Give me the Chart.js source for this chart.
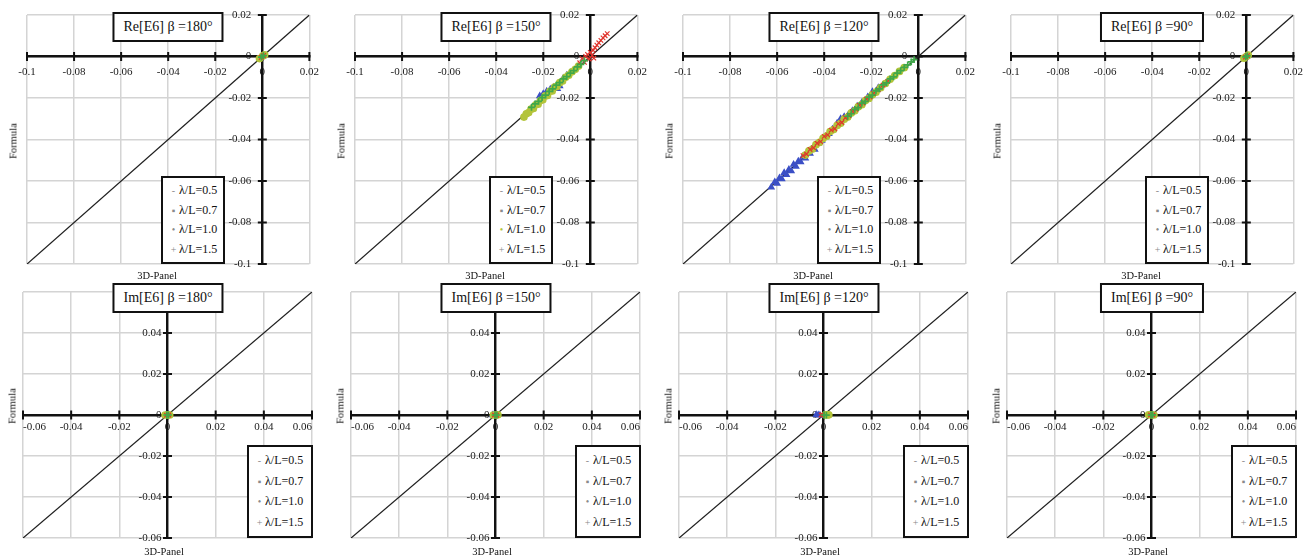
<!DOCTYPE html>
<html>
<head>
<meta charset="utf-8">
<script src="https://cdn.jsdelivr.net/npm/chart.js@4.4.1/dist/chart.umd.min.js"></script>
<style>
  html, body { margin: 0; padding: 0; background: #fff; }
  #fig { position: relative; width: 1312px; height: 558px; overflow: hidden; background: #fff;
         font-family: "Liberation Serif", "Times New Roman", serif; color: #111; }
  .panel { position: absolute; width: 328px; }
  .panel canvas { position: absolute; left: 0; top: 0; }
  .title { position: absolute; border: 2px solid #111; background: #fff; font-size: 14px;
           height: 26px; line-height: 26px; padding: 0 9px; white-space: nowrap; transform: translateX(-50%); }
  .legend { position: absolute; border: 2px solid #111; background: #fff; font-size: 12px;
            box-sizing: border-box; display: flex; flex-direction: column; justify-content: space-evenly;
            padding: 0 4px 0 7px; white-space: nowrap; }
  .legend .mk { display: inline-block; width: 7px; text-align: center; color: #8a8a8a; margin-right: 2px; font-size: 10px; }
  .ytitle { position: absolute; font-size: 10.5px; transform: translate(-50%, -50%) rotate(-90deg); white-space: nowrap; }
  .xtitle { position: absolute; font-size: 10.5px; transform: translate(-50%, -50%); white-space: nowrap; }
</style>
</head>
<body>
<div id="fig"></div>
<script>
// ---- tick values and labels ----
const reTicks = [-0.1, -0.08, -0.06, -0.04, -0.02, 0, 0.02];
const reTickLabels = ['-0.1', '-0.08', '-0.06', '-0.04', '-0.02', '0', '0.02'];
const imTicks = [-0.06, -0.04, -0.02, 0, 0.02, 0.04, 0.06];
const imTickLabels = ['-0.06', '-0.04', '-0.02', '0', '0.02', '0.04', '0.06'];

// ---- legend entries ----
const seriesNames = ['λ/L=0.5', 'λ/L=0.7', 'λ/L=1.0', 'λ/L=1.5'];
const seriesColors = ['#3b4fc6', '#e0342c', '#b3c43a', '#3fa84a'];
const legendMarks = ['-', '▪', '•', '+'];

// ---- Re[E6], beta = 180 deg : [3D-Panel, Formula] ----
const re180_l05 = [[-0.0008, -0.0006], [0.0004, 0.0003]];
const re180_l07 = [[-0.0005, -0.0004], [0.0006, 0.0005]];
const re180_l10 = [[-0.0012, -0.0010], [0.0002, 0.0003], [0.0010, 0.0008]];
const re180_l15 = [[-0.0004, -0.0003], [0.0005, 0.0004]];

// ---- Re[E6], beta = 150 deg ----
const re150_l05 = [[-0.0215, -0.0190], [-0.0200, -0.0180], [-0.0185, -0.0168], [-0.0170, -0.0158], [-0.0155, -0.0148],
                   [-0.0140, -0.0155], [-0.0130, -0.0142], [-0.0115, -0.0105], [-0.0100, -0.0090], [-0.0085, -0.0078]];
const re150_l07 = [[-0.0045, -0.0030], [-0.0035, -0.0010], [-0.0025, -0.0028], [-0.0020, 0.0000], [-0.0012, 0.0010],
                   [-0.0005, -0.0012], [0.0000, 0.0020], [0.0008, 0.0005], [0.0012, 0.0030], [0.0020, 0.0042],
                   [0.0028, 0.0055], [0.0036, 0.0066], [0.0045, 0.0078], [0.0054, 0.0090], [0.0063, 0.0100],
                   [0.0072, 0.0110], [0.0015, -0.0008]];
const re150_l10 = [[-0.0282, -0.0292], [-0.0272, -0.0276], [-0.0262, -0.0270], [-0.0252, -0.0254], [-0.0242, -0.0250],
                   [-0.0232, -0.0233], [-0.0222, -0.0230], [-0.0212, -0.0212], [-0.0202, -0.0208], [-0.0192, -0.0190],
                   [-0.0182, -0.0188], [-0.0172, -0.0168], [-0.0162, -0.0166], [-0.0152, -0.0148], [-0.0142, -0.0144],
                   [-0.0130, -0.0126], [-0.0118, -0.0118], [-0.0105, -0.0100], [-0.0092, -0.0090], [-0.0078, -0.0074],
                   [-0.0064, -0.0062], [-0.0050, -0.0046]];
const re150_l15 = [[-0.0250, -0.0245], [-0.0235, -0.0228], [-0.0220, -0.0216], [-0.0205, -0.0198], [-0.0190, -0.0186],
                   [-0.0175, -0.0168], [-0.0160, -0.0156], [-0.0145, -0.0138], [-0.0130, -0.0126], [-0.0115, -0.0108],
                   [-0.0100, -0.0097], [-0.0085, -0.0080], [-0.0070, -0.0068], [-0.0055, -0.0050], [-0.0040, -0.0038],
                   [-0.0025, -0.0020]];

// ---- Re[E6], beta = 120 deg ----
const re120_l05 = [[-0.0625, -0.0630], [-0.0610, -0.0605], [-0.0600, -0.0612], [-0.0590, -0.0585], [-0.0580, -0.0590],
                   [-0.0570, -0.0560], [-0.0560, -0.0570], [-0.0550, -0.0545], [-0.0540, -0.0552], [-0.0530, -0.0520],
                   [-0.0520, -0.0530], [-0.0510, -0.0505], [-0.0500, -0.0508], [-0.0490, -0.0482], [-0.0480, -0.0490],
                   [-0.0470, -0.0462], [-0.0460, -0.0468], [-0.0450, -0.0443], [-0.0440, -0.0448], [-0.0425, -0.0418],
                   [-0.0410, -0.0405], [-0.0395, -0.0388], [-0.0380, -0.0372], [-0.0365, -0.0350], [-0.0345, -0.0322],
                   [-0.0330, -0.0300], [-0.0315, -0.0290], [-0.0300, -0.0285], [-0.0280, -0.0262], [-0.0260, -0.0240],
                   [-0.0240, -0.0222], [-0.0215, -0.0195], [-0.0195, -0.0170], [-0.0170, -0.0150]];
const re120_l07 = [[-0.0490, -0.0478], [-0.0475, -0.0470], [-0.0460, -0.0448], [-0.0445, -0.0440], [-0.0430, -0.0418],
                   [-0.0415, -0.0410], [-0.0400, -0.0385], [-0.0385, -0.0378], [-0.0370, -0.0355], [-0.0355, -0.0348],
                   [-0.0340, -0.0325], [-0.0325, -0.0318], [-0.0310, -0.0295], [-0.0295, -0.0285], [-0.0280, -0.0265],
                   [-0.0265, -0.0255], [-0.0250, -0.0235], [-0.0235, -0.0225], [-0.0220, -0.0205], [-0.0205, -0.0195],
                   [-0.0190, -0.0178], [-0.0170, -0.0160], [-0.0150, -0.0138], [-0.0130, -0.0120]];
const re120_l10 = [[-0.0480, -0.0475], [-0.0465, -0.0455], [-0.0450, -0.0446], [-0.0435, -0.0425], [-0.0420, -0.0414],
                   [-0.0405, -0.0395], [-0.0390, -0.0384], [-0.0375, -0.0362], [-0.0360, -0.0352], [-0.0345, -0.0332],
                   [-0.0330, -0.0322], [-0.0315, -0.0302], [-0.0300, -0.0292], [-0.0285, -0.0272], [-0.0270, -0.0262],
                   [-0.0255, -0.0242], [-0.0240, -0.0232], [-0.0225, -0.0212], [-0.0210, -0.0202], [-0.0195, -0.0184],
                   [-0.0180, -0.0172], [-0.0160, -0.0150], [-0.0140, -0.0130], [-0.0120, -0.0110], [-0.0100, -0.0092],
                   [-0.0080, -0.0072], [-0.0060, -0.0054]];
const re120_l15 = [[-0.0300, -0.0288], [-0.0285, -0.0276], [-0.0270, -0.0255], [-0.0255, -0.0246], [-0.0240, -0.0225],
                   [-0.0225, -0.0216], [-0.0210, -0.0196], [-0.0195, -0.0186], [-0.0180, -0.0166], [-0.0165, -0.0156],
                   [-0.0150, -0.0137], [-0.0135, -0.0127], [-0.0120, -0.0108], [-0.0105, -0.0098], [-0.0090, -0.0080],
                   [-0.0075, -0.0068], [-0.0060, -0.0052], [-0.0045, -0.0040], [-0.0030, -0.0026], [-0.0018, -0.0015]];

// ---- Re[E6], beta = 90 deg ----
const re90_l05 = [[-0.0006, -0.0005], [0.0003, 0.0002]];
const re90_l07 = [[-0.0004, -0.0003], [0.0005, 0.0004]];
const re90_l10 = [[-0.0010, -0.0008], [0.0001, 0.0001], [0.0008, 0.0007]];
const re90_l15 = [[-0.0003, -0.0002], [0.0004, 0.0003]];

// ---- Im[E6] ----
const im180_l05 = [[-0.0006, 0.0000], [0.0004, 0.0001]];
const im180_l07 = [[-0.0004, -0.0001], [0.0005, 0.0000]];
const im180_l10 = [[-0.0010, 0.0000], [0.0002, 0.0001], [0.0009, 0.0000]];
const im180_l15 = [[-0.0003, 0.0000], [0.0004, 0.0000]];

const im150_l05 = [[-0.0012, 0.0000], [-0.0006, 0.0001]];
const im150_l07 = [[-0.0004, 0.0000], [0.0005, -0.0001]];
const im150_l10 = [[-0.0009, 0.0000], [0.0003, 0.0000], [0.0010, 0.0001]];
const im150_l15 = [[-0.0002, 0.0000], [0.0006, 0.0000]];

const im120_l05 = [[-0.0030, 0.0001], [-0.0022, 0.0000], [-0.0015, -0.0001]];
const im120_l07 = [[-0.0010, 0.0000], [-0.0004, 0.0001]];
const im120_l10 = [[0.0008, 0.0001], [0.0016, 0.0000], [0.0022, 0.0001]];
const im120_l15 = [[0.0002, 0.0000], [0.0012, -0.0001]];

const im90_l05 = [[-0.0008, 0.0000], [0.0003, 0.0001]];
const im90_l07 = [[-0.0004, 0.0000], [0.0006, 0.0000]];
const im90_l10 = [[-0.0012, 0.0001], [0.0001, 0.0000], [0.0010, 0.0000]];
const im90_l15 = [[-0.0002, 0.0000], [0.0005, 0.0001]];

// ---- panel list ----
const panels = [
  { row: 0, col: 0, title: 'Re[E6] β =180°', data: [re180_l05, re180_l07, re180_l10, re180_l15] },
  { row: 0, col: 1, title: 'Re[E6] β =150°', data: [re150_l05, re150_l07, re150_l10, re150_l15], greenMark: true },
  { row: 0, col: 2, title: 'Re[E6] β =120°', data: [re120_l05, re120_l07, re120_l10, re120_l15] },
  { row: 0, col: 3, title: 'Re[E6] β =90°',  data: [re90_l05, re90_l07, re90_l10, re90_l15] },
  { row: 1, col: 0, title: 'Im[E6] β =180°', data: [im180_l05, im180_l07, im180_l10, im180_l15] },
  { row: 1, col: 1, title: 'Im[E6] β =150°', data: [im150_l05, im150_l07, im150_l10, im150_l15] },
  { row: 1, col: 2, title: 'Im[E6] β =120°', data: [im120_l05, im120_l07, im120_l10, im120_l15] },
  { row: 1, col: 3, title: 'Im[E6] β =90°',  data: [im90_l05, im90_l07, im90_l10, im90_l15] }
];

// row-wise frame settings
const rowSpec = [
  { top: 0,   height: 280, ticks: reTicks, labels: reTickLabels, pad: { left: 27, right: 15, top: 15, bottom: 16 },
    xPad: 9, yPad: 11, align: 'center',
    titleTop: 12, legend: { left: 161, top: 176, width: 64, height: 88 },
    yTitle: { x: 13, y: 141 }, xTitle: { x: 157, y: 275 } },
  { top: 280, height: 278, ticks: imTicks, labels: imTickLabels, pad: { left: 23, right: 16, top: 12, bottom: 20 },
    xPad: 6, yPad: 6, align: 'inner',
    titleTop: 3, legend: { left: 247, top: 165, width: 66, height: 93 },
    yTitle: { x: 12, y: 126 }, xTitle: { x: 164, y: 271 } }
];

const markerStyles = ['triangle', 'crossRot', 'circle', 'cross'];
const markerSizes = [2.8, 3.2, 3.0, 3.4];
const markerWidths = [1.7, 1.2, 1.7, 1.7];
const drawOrder = [4, 2, 3, 1];   // lower value is drawn on top

Chart.defaults.font.family = "'Liberation Serif', 'Times New Roman', serif";
Chart.defaults.color = '#1a1a1a';

// tick marks crossing the axis lines, and the value labels of the vertical axis
const crossTicks = {
  id: 'crossTicks',
  beforeDatasetsDraw(chart, args, opts) {
    const { ctx, scales: { x, y } } = chart;
    const x0 = x.getPixelForValue(0);
    const y0 = y.getPixelForValue(0);
    ctx.save();
    ctx.strokeStyle = '#111';
    ctx.lineWidth = 2;
    ctx.beginPath();
    x.ticks.forEach(t => {
      const px = x.getPixelForValue(t.value);
      ctx.moveTo(px, y0 - 4.5); ctx.lineTo(px, y0 + 4.5);
    });
    y.ticks.forEach(t => {
      const py = y.getPixelForValue(t.value);
      ctx.moveTo(x0 - 4.5, py); ctx.lineTo(x0 + 4.5, py);
    });
    ctx.stroke();
    ctx.font = "11px 'Liberation Serif', 'Times New Roman', serif";
    ctx.fillStyle = '#1a1a1a';
    ctx.textAlign = 'right';
    ctx.textBaseline = 'middle';
    y.ticks.forEach(t => {
      ctx.fillText(opts.labelFor(t.value), x0 - opts.pad, y.getPixelForValue(t.value));
    });
    ctx.restore();
  }
};

const fig = document.getElementById('fig');

panels.forEach(p => {
  const spec = rowSpec[p.row];
  const lo = spec.ticks[0], hi = spec.ticks[spec.ticks.length - 1];

  const div = document.createElement('div');
  div.className = 'panel';
  div.style.left = (p.col * 328) + 'px';
  div.style.top = spec.top + 'px';
  div.style.height = spec.height + 'px';
  fig.appendChild(div);

  const canvas = document.createElement('canvas');
  canvas.width = 328; canvas.height = spec.height;
  canvas.style.width = '328px'; canvas.style.height = spec.height + 'px';
  div.appendChild(canvas);

  const datasets = p.data.map((pts, i) => ({
    label: seriesNames[i],
    data: pts.map(([x, y]) => ({ x, y })),
    pointStyle: markerStyles[i],
    pointRadius: markerSizes[i],
    pointBorderWidth: markerWidths[i],
    borderColor: seriesColors[i],
    backgroundColor: seriesColors[i],
    showLine: false,
    order: drawOrder[i]
  }));
  // y = x reference line across the frame
  datasets.push({
    label: 'y=x',
    data: [{ x: lo, y: lo }, { x: hi, y: hi }],
    showLine: true,
    borderColor: '#1f1f1f',
    borderWidth: 1.3,
    pointRadius: 0,
    fill: false,
    order: 9
  });

  const tickFont = { size: 11 };
  const labelFor = v => {
    const k = spec.ticks.findIndex(t => Math.abs(t - v) < 1e-9);
    return k >= 0 ? spec.labels[k] : '';
  };
  const setTicks = s => { s.ticks = spec.ticks.map(v => ({ value: v })); };

  new Chart(canvas, {
    type: 'scatter',
    data: { datasets },
    options: {
      responsive: false,
      animation: false,
      layout: { padding: spec.pad },
      plugins: {
        legend: { display: false },
        tooltip: { enabled: false },
        crossTicks: { labelFor, pad: spec.yPad }
      },
      scales: {
        x: {
          type: 'linear', min: lo, max: hi, position: { y: 0 },
          afterBuildTicks: setTicks,
          ticks: { callback: labelFor, font: tickFont, padding: spec.xPad, autoSkip: false,
                   maxRotation: 0, align: spec.align, color: '#1a1a1a' },
          grid: { color: '#d4d4d4', lineWidth: 1.5, drawTicks: false },
          border: { display: true, color: '#111', width: 2.4 }
        },
        y: {
          type: 'linear', min: lo, max: hi, position: { x: 0 },
          afterBuildTicks: setTicks,
          ticks: { display: false },
          grid: { color: '#d4d4d4', lineWidth: 1.5, drawTicks: false },
          border: { display: true, color: '#111', width: 2.4 }
        }
      }
    },
    plugins: [crossTicks]
  });

  // axis titles
  const yt = document.createElement('div');
  yt.className = 'ytitle'; yt.textContent = 'Formula';
  yt.style.left = spec.yTitle.x + 'px'; yt.style.top = spec.yTitle.y + 'px';
  div.appendChild(yt);
  const xt = document.createElement('div');
  xt.className = 'xtitle'; xt.textContent = '3D-Panel';
  xt.style.left = spec.xTitle.x + 'px'; xt.style.top = spec.xTitle.y + 'px';
  div.appendChild(xt);

  // title box
  const tt = document.createElement('div');
  tt.className = 'title'; tt.textContent = p.title;
  tt.style.left = '168px'; tt.style.top = spec.titleTop + 'px';
  div.appendChild(tt);

  // legend box
  const lg = document.createElement('div');
  lg.className = 'legend';
  lg.style.left = spec.legend.left + 'px'; lg.style.top = spec.legend.top + 'px';
  lg.style.width = spec.legend.width + 'px'; lg.style.height = spec.legend.height + 'px';
  seriesNames.forEach((name, i) => {
    const row = document.createElement('div');
    const mk = document.createElement('span');
    mk.className = 'mk'; mk.textContent = legendMarks[i];
    if (p.greenMark && i === 2) mk.style.color = seriesColors[2];
    row.appendChild(mk);
    row.appendChild(document.createTextNode(name));
    lg.appendChild(row);
  });
  div.appendChild(lg);
});
</script>
</body>
</html>
